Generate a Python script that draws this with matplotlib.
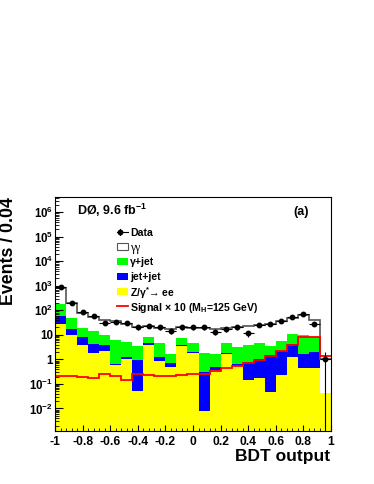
import numpy as np
import matplotlib
matplotlib.use('Agg')
import matplotlib.pyplot as plt
from matplotlib.patches import Rectangle
from matplotlib.ticker import FixedLocator, MultipleLocator, LogLocator, FuncFormatter, NullFormatter

plt.rcParams['font.family'] = ['Liberation Sans', 'DejaVu Sans']
plt.rcParams['font.weight'] = 'bold'
plt.rcParams['mathtext.fontset'] = 'custom'
plt.rcParams['mathtext.rm'] = 'Liberation Sans:bold'
plt.rcParams['mathtext.it'] = 'Liberation Sans:bold'
plt.rcParams['mathtext.bf'] = 'Liberation Sans:bold'
plt.rcParams['mathtext.default'] = 'rm'

# 25 bins of BDT output from -1 to 1
edges = np.linspace(-1, 1, 26)

# background contributions per bin (stacked bottom to top)
zee = [27.5, 9.8, 4.0, 1.86, 2.3, 0.58, 1.05, 0.05, 3.8, 0.88, 0.5, 3.5, 1.9,
       0.008, 0.37, 1.65, 0.53, 0.14, 0.18, 0.048, 0.23, 1.28, 0.45, 0.45, 0.043]
jetjet = [31.5, 7.2, 4.4, 2.44, 1.6, 0.08, 0.25, 0.88, 0.7, 0.32, 0.23, 0.2, 0.1,
          0.29, 0.1, 0.21, 0.11, 0.66, 0.82, 1.45, 1.97, 2.82, 1.15, 1.55, 0.0]
gammajet = [121, 30, 10.1, 10.0, 5.9, 5.44, 3.7, 2.67, 3.9, 3.3, 0.92, 3.9, 2.8,
            1.5, 1.13, 2.64, 2.66, 3.0, 3.5, 2.1, 3.4, 6.7, 8.4, 6.4, 0.0]
diphoton = [670, 153, 61.5, 38.7, 32.2, 29.9, 24, 17.4, 13.6, 14.5, 15.35, 13.4, 13.7,
            16.7, 15.9, 14.5, 16.7, 19.7, 20.5, 24.4, 32.4, 39.2, 54, 31.6, 0.96]
data = [870, 204, 83, 60, 31, 34, 31, 20, 23, 20, 15, 21, 20,
        21, 13.4, 16.7, 20, 11.5, 25, 27.5, 38, 55, 69, 27.5, 1.0]
signal = [0.22, 0.21, 0.20, 0.18, 0.25, 0.21, 0.15, 0.26, 0.24, 0.21, 0.22, 0.24, 0.25,
          0.26, 0.34, 0.43, 0.55, 0.69, 0.94, 1.4, 2.1, 3.9, 8.3, 8.3, 1.4]

ytick_vals = [1e-2, 1e-1, 1, 10, 1e2, 1e3, 1e4, 1e5, 1e6]
xtick_vals = [-1, -0.8, -0.6, -0.4, -0.2, 0, 0.2, 0.4, 0.6, 0.8, 1]

legend_labels = ['Data', 'γγ', 'γ+jet', 'jet+jet', r'Z/γ$^{*}$→ ee',
                 r'Signal × 10 (M$_{H}$=125 GeV)']

YELLOW, BLUE, GREEN, RED, GRAY = '#ffff00', '#0000ff', '#00ff00', '#ff0000', '#555555'

fig = plt.figure(figsize=(3.74, 4.84), dpi=100)
ax = fig.add_axes([55 / 374, 1 - 431 / 484, 276 / 374, 234 / 484])
ax.set_yscale('log')

floor = 1e-5
c1 = np.array(zee)
c2 = c1 + np.array(jetjet)
c3 = c2 + np.array(gammajet)
c4 = c3 + np.array(diphoton)

ax.stairs(c1, edges, baseline=floor, fill=True, color=YELLOW, lw=0)
ax.stairs(c2, edges, baseline=c1, fill=True, color=BLUE, lw=0)
ax.stairs(c3, edges, baseline=c2, fill=True, color=GREEN, lw=0)
ax.stairs(c4, edges, baseline=None, color=GRAY, lw=1.2)
ax.stairs(signal, edges, baseline=None, color=RED, lw=1.3)

centers = 0.5 * (edges[1:] + edges[:-1])
d = np.array(data)
ax.errorbar(centers, d, xerr=0.04, yerr=np.sqrt(d), fmt='o', color='black',
            ms=3.2, elinewidth=0.8, capsize=0)

ax.set_xlim(-1, 1)
ax.set_ylim(1.2e-3, 4.2e6)

ax.xaxis.set_major_locator(FixedLocator(xtick_vals))
ax.xaxis.set_minor_locator(MultipleLocator(0.04))
ax.xaxis.set_major_formatter(FuncFormatter(lambda v, p: '%g' % round(v, 2)))
ax.yaxis.set_major_locator(FixedLocator(ytick_vals))
ax.yaxis.set_minor_locator(LogLocator(base=10, subs=np.arange(2, 10), numticks=20))
ax.yaxis.set_minor_formatter(NullFormatter())


def ylab(v, p):
    e = int(round(np.log10(v)))
    if e == 0:
        return '1'
    if e == 1:
        return '10'
    return r'$10^{%d}$' % e


ax.yaxis.set_major_formatter(FuncFormatter(ylab))
ax.tick_params(which='both', direction='in', top=False, right=False)
ax.tick_params(axis='y', which='major', length=5.8, pad=1.5, labelsize=8.3)
ax.tick_params(axis='y', which='minor', length=2.9)
ax.tick_params(axis='x', which='major', length=4.3, pad=3.5, labelsize=8.7)
ax.tick_params(axis='x', which='minor', length=2.2)
for s in ax.spines.values():
    s.set_linewidth(0.8)

fig.text(330 / 374, 1 - 457 / 484, 'BDT output', ha='right', va='center', fontsize=12.5)
fig.text(9 / 374, 1 - 197 / 484, 'Events / 0.04', rotation=90, ha='center', va='top',
         fontsize=12.8)

ax.text(0.08, 0.923, r'DØ, 9.6 fb$^{-1}$', transform=ax.transAxes, fontsize=9,
        va='baseline')
ax.text(0.891, 0.937, '(a)', transform=ax.transAxes, fontsize=9, ha='center', va='center')


# legend drawn row by row (pixel layout converted to axes fraction)
def fx(px):
    return (px - 55) / 276


def fy(py):
    return (431 - py) / 234


row_y = [231.7 + 14.9 * i for i in range(6)]
bx0, bx1, bh = 116.7, 127.7, 7.5
for i, lab in enumerate(legend_labels):
    yc = row_y[i]
    if i == 0:
        ax.plot([fx(bx0), fx(bx1)], [fy(yc)] * 2, color='black', lw=0.8,
                transform=ax.transAxes, clip_on=False)
        ax.plot([fx(119.5)] * 2, [fy(yc - 3), fy(yc + 3)], color='black', lw=0.8,
                transform=ax.transAxes, clip_on=False)
        ax.plot([fx(119.5)], [fy(yc)], 'o', color='black', ms=3.2,
                transform=ax.transAxes, clip_on=False)
    elif i == 5:
        ax.plot([fx(bx0), fx(bx1)], [fy(yc)] * 2, color=RED, lw=1.3,
                transform=ax.transAxes, clip_on=False)
    else:
        fc = ['white', GREEN, BLUE, YELLOW][i - 1]
        ec = GRAY if i == 1 else 'none'
        ax.add_patch(Rectangle((fx(bx0), fy(yc + bh / 2)), fx(bx1) - fx(bx0),
                               fy(yc - bh / 2) - fy(yc + bh / 2), facecolor=fc,
                               edgecolor=ec, lw=0.8, transform=ax.transAxes))
    t = ax.text(fx(130), fy(yc), lab, transform=ax.transAxes, fontsize=7.6,
                va='center_baseline')
    if i == 1:
        t.set_fontfamily('Liberation Serif')
        t.set_fontweight('normal')
        t.set_fontsize(8.5)

fig.savefig('out.png', dpi=100)
